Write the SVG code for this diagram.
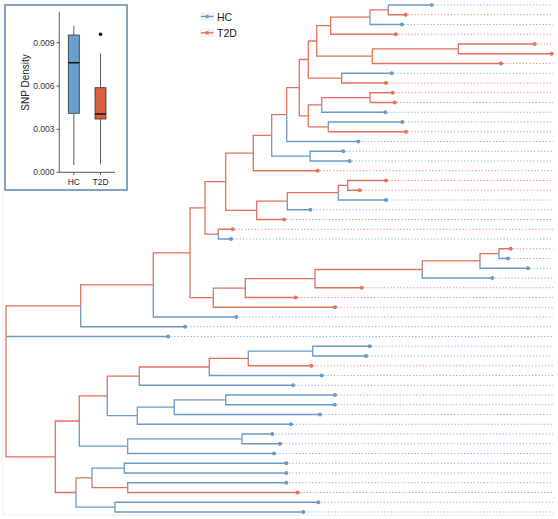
<svg xmlns="http://www.w3.org/2000/svg" width="558" height="519" viewBox="0 0 558 519">
<style>
.r{stroke:#E0725E;fill:none;stroke-width:1.3}
.b{stroke:#6A9AC6;fill:none;stroke-width:1.3}
.tip circle{stroke:none}
.tr circle{fill:#E0725E}
.tb circle{fill:#6A9AC6}
.tr line{stroke:#E58A78;stroke-width:1;stroke-dasharray:1.2 2.1}
.tb line{stroke:#86AED2;stroke-width:1;stroke-dasharray:1.2 2.1}
.ax{stroke:#333;stroke-width:0.8;fill:none}
.lbl{font-family:"Liberation Sans",Arial,sans-serif}
</style>
<rect x="0" y="0" width="558" height="519" fill="#fff"/>
<path d="M3,190V515H555" fill="none" stroke="#ececec" stroke-width="1"/>

<g id="connectors">
<path class="r" d="M6,336.5V305.8H80.7"/>
<path class="b" d="M6,336.5H168.3"/>
<path class="r" d="M6,336.5V456.8H55.3"/>
<path class="b" d="M80.7,305.8V326.75H185"/>
<path class="r" d="M80.7,305.8V284.9H153.3"/>
<path class="b" d="M153.3,284.9V317H236.3"/>
<path class="r" d="M153.3,284.9V252.8H190"/>
<path class="r" d="M190,252.8V207.9H205"/>
<path class="r" d="M190,252.8V297.7H213.3"/>
<path class="r" d="M205,207.9V234.1H218.3"/>
<path class="r" d="M205,207.9V181.7H225.7"/>
<path class="r" d="M218.3,234.1V229.25H232.7"/>
<path class="b" d="M218.3,234.1V239H231"/>
<path class="r" d="M225.7,181.7V153.1H253.3"/>
<path class="r" d="M225.7,181.7V210.4H256.7"/>
<path class="r" d="M253.3,153.1V170.75H317.7"/>
<path class="r" d="M253.3,153.1V135.4H271.7"/>
<path class="b" d="M271.7,135.4V156.1H310"/>
<path class="r" d="M271.7,135.4V114.6H286.7"/>
<path class="b" d="M310,156.1V151.25H343.3"/>
<path class="b" d="M310,156.1V161H349.7"/>
<path class="b" d="M286.7,114.6V141.5H358.3"/>
<path class="r" d="M286.7,114.6V87.7H299.3"/>
<path class="r" d="M299.3,87.7V59.5H308.3"/>
<path class="r" d="M299.3,87.7V115.9H308.3"/>
<path class="r" d="M308.3,59.5V41H316.7"/>
<path class="r" d="M308.3,59.5V78.1H341.7"/>
<path class="r" d="M316.7,41V25.7H330.7"/>
<path class="r" d="M316.7,41V56.2H372.3"/>
<path class="r" d="M330.7,25.7V34.25H395.7"/>
<path class="r" d="M330.7,25.7V17.2H370"/>
<path class="b" d="M370,17.2V24.5H402"/>
<path class="r" d="M370,17.2V9.9H388.3"/>
<path class="b" d="M388.3,9.9V5H431.7"/>
<path class="r" d="M388.3,9.9V14.75H405.7"/>
<path class="r" d="M372.3,56.2V63.5H501"/>
<path class="r" d="M372.3,56.2V48.9H458.3"/>
<path class="r" d="M458.3,48.9V44H534.7"/>
<path class="r" d="M458.3,48.9V53.75H551.7"/>
<path class="b" d="M341.7,78.1V73.25H391.7"/>
<path class="r" d="M341.7,78.1V83H386"/>
<path class="r" d="M308.3,115.9V104.9H321.7"/>
<path class="r" d="M308.3,115.9V126.9H328.3"/>
<path class="r" d="M321.7,104.9V97.6H370"/>
<path class="b" d="M321.7,104.9V112.25H385.3"/>
<path class="r" d="M370,97.6V92.75H392.7"/>
<path class="r" d="M370,97.6V102.5H394.7"/>
<path class="b" d="M328.3,126.9V122H402.3"/>
<path class="r" d="M328.3,126.9V131.75H406"/>
<path class="r" d="M256.7,210.4V219.5H284"/>
<path class="r" d="M256.7,210.4V201.2H287.3"/>
<path class="b" d="M287.3,201.2V209.75H310.3"/>
<path class="r" d="M287.3,201.2V192.7H338.3"/>
<path class="b" d="M338.3,192.7V200H386"/>
<path class="r" d="M338.3,192.7V185.4H347.7"/>
<path class="r" d="M347.7,185.4V180.5H386"/>
<path class="r" d="M347.7,185.4V190.25H359.7"/>
<path class="r" d="M213.3,297.7V307.25H335"/>
<path class="r" d="M213.3,297.7V288.1H245.3"/>
<path class="r" d="M245.3,288.1V297.5H295.7"/>
<path class="r" d="M245.3,288.1V278.6H315"/>
<path class="r" d="M315,278.6V287.75H361.7"/>
<path class="r" d="M315,278.6V269.5H422.3"/>
<path class="b" d="M422.3,269.5V278H492.3"/>
<path class="r" d="M422.3,269.5V260.9H480"/>
<path class="b" d="M480,260.9V268.25H528"/>
<path class="r" d="M480,260.9V253.6H499"/>
<path class="r" d="M499,253.6V248.75H510.7"/>
<path class="b" d="M499,253.6V258.5H508"/>
<path class="r" d="M55.3,456.8V421H79.3"/>
<path class="r" d="M55.3,456.8V492.5H76"/>
<path class="r" d="M79.3,421V395.9H107.3"/>
<path class="b" d="M79.3,421V446.2H127.7"/>
<path class="r" d="M107.3,395.9V376.1H139.3"/>
<path class="b" d="M107.3,395.9V415.7H137.3"/>
<path class="r" d="M139.3,376.1V367H209.3"/>
<path class="b" d="M139.3,376.1V385.25H293"/>
<path class="r" d="M209.3,367V358.4H248.3"/>
<path class="b" d="M209.3,367V375.5H321.7"/>
<path class="b" d="M248.3,358.4V351.1H312.7"/>
<path class="r" d="M248.3,358.4V365.75H311.3"/>
<path class="b" d="M312.7,351.1V346.25H369.7"/>
<path class="b" d="M312.7,351.1V356H366"/>
<path class="b" d="M137.3,415.7V407.2H174.3"/>
<path class="b" d="M137.3,415.7V424.25H291"/>
<path class="b" d="M174.3,407.2V399.9H225.7"/>
<path class="b" d="M174.3,407.2V414.5H320"/>
<path class="b" d="M225.7,399.9V395H335"/>
<path class="b" d="M225.7,399.9V404.75H334.7"/>
<path class="b" d="M127.7,446.2V438.9H242"/>
<path class="b" d="M127.7,446.2V453.5H274"/>
<path class="b" d="M242,438.9V434H272.3"/>
<path class="b" d="M242,438.9V443.75H280"/>
<path class="r" d="M76,492.5V477.9H92"/>
<path class="b" d="M76,492.5V507.1H115"/>
<path class="b" d="M92,477.9V468.1H124.3"/>
<path class="r" d="M92,477.9V487.6H127.7"/>
<path class="b" d="M124.3,468.1V463.25H286.3"/>
<path class="b" d="M124.3,468.1V473H286.3"/>
<path class="b" d="M127.7,487.6V482.75H286.3"/>
<path class="r" d="M127.7,487.6V492.5H297.7"/>
<path class="b" d="M115,507.1V502.25H318.3"/>
<path class="b" d="M115,507.1V512H303.3"/>
</g>

<g id="tips">
<g id="t1" class="tip tb"><line x1="434" y1="5" x2="553" y2="5"/><circle cx="431.7" cy="5" r="2"/></g>
<g id="t2" class="tip tr"><line x1="408" y1="14.75" x2="553" y2="14.75"/><circle cx="405.7" cy="14.75" r="2"/></g>
<g id="t3" class="tip tb"><line x1="404" y1="24.5" x2="553" y2="24.5"/><circle cx="402" cy="24.5" r="2"/></g>
<g id="t4" class="tip tr"><line x1="398" y1="34.25" x2="553" y2="34.25"/><circle cx="395.7" cy="34.25" r="2"/></g>
<g id="t5" class="tip tr"><line x1="537" y1="44" x2="553" y2="44"/><circle cx="534.7" cy="44" r="2"/></g>
<g id="t6" class="tip tr"><circle cx="551.7" cy="53.75" r="2"/></g>
<g id="t7" class="tip tr"><line x1="503" y1="63.5" x2="553" y2="63.5"/><circle cx="501" cy="63.5" r="2"/></g>
<g id="t8" class="tip tb"><line x1="394" y1="73.25" x2="553" y2="73.25"/><circle cx="391.7" cy="73.25" r="2"/></g>
<g id="t9" class="tip tr"><line x1="388" y1="83" x2="553" y2="83"/><circle cx="386" cy="83" r="2"/></g>
<g id="t10" class="tip tr"><line x1="395" y1="92.75" x2="553" y2="92.75"/><circle cx="392.7" cy="92.75" r="2"/></g>
<g id="t11" class="tip tr"><line x1="397" y1="102.5" x2="553" y2="102.5"/><circle cx="394.7" cy="102.5" r="2"/></g>
<g id="t12" class="tip tb"><line x1="388" y1="112.25" x2="553" y2="112.25"/><circle cx="385.3" cy="112.25" r="2"/></g>
<g id="t13" class="tip tb"><line x1="405" y1="122" x2="553" y2="122"/><circle cx="402.3" cy="122" r="2"/></g>
<g id="t14" class="tip tr"><line x1="408" y1="131.75" x2="553" y2="131.75"/><circle cx="406" cy="131.75" r="2"/></g>
<g id="t15" class="tip tb"><line x1="361" y1="141.5" x2="553" y2="141.5"/><circle cx="358.3" cy="141.5" r="2"/></g>
<g id="t16" class="tip tb"><line x1="346" y1="151.25" x2="553" y2="151.25"/><circle cx="343.3" cy="151.25" r="2"/></g>
<g id="t17" class="tip tb"><line x1="352" y1="161" x2="553" y2="161"/><circle cx="349.7" cy="161" r="2"/></g>
<g id="t18" class="tip tr"><line x1="320" y1="170.75" x2="553" y2="170.75"/><circle cx="317.7" cy="170.75" r="2"/></g>
<g id="t19" class="tip tr"><line x1="388" y1="180.5" x2="553" y2="180.5"/><circle cx="386" cy="180.5" r="2"/></g>
<g id="t20" class="tip tr"><line x1="362" y1="190.25" x2="553" y2="190.25"/><circle cx="359.7" cy="190.25" r="2"/></g>
<g id="t21" class="tip tb"><line x1="388" y1="200" x2="553" y2="200"/><circle cx="386" cy="200" r="2"/></g>
<g id="t22" class="tip tb"><line x1="313" y1="209.75" x2="553" y2="209.75"/><circle cx="310.3" cy="209.75" r="2"/></g>
<g id="t23" class="tip tr"><line x1="286" y1="219.5" x2="553" y2="219.5"/><circle cx="284" cy="219.5" r="2"/></g>
<g id="t24" class="tip tr"><line x1="235" y1="229.25" x2="553" y2="229.25"/><circle cx="232.7" cy="229.25" r="2"/></g>
<g id="t25" class="tip tb"><line x1="233" y1="239" x2="553" y2="239"/><circle cx="231" cy="239" r="2"/></g>
<g id="t26" class="tip tr"><line x1="513" y1="248.75" x2="553" y2="248.75"/><circle cx="510.7" cy="248.75" r="2"/></g>
<g id="t27" class="tip tb"><line x1="510" y1="258.5" x2="553" y2="258.5"/><circle cx="508" cy="258.5" r="2"/></g>
<g id="t28" class="tip tb"><line x1="530" y1="268.25" x2="553" y2="268.25"/><circle cx="528" cy="268.25" r="2"/></g>
<g id="t29" class="tip tb"><line x1="495" y1="278" x2="553" y2="278"/><circle cx="492.3" cy="278" r="2"/></g>
<g id="t30" class="tip tr"><line x1="364" y1="287.75" x2="553" y2="287.75"/><circle cx="361.7" cy="287.75" r="2"/></g>
<g id="t31" class="tip tr"><line x1="298" y1="297.5" x2="553" y2="297.5"/><circle cx="295.7" cy="297.5" r="2"/></g>
<g id="t32" class="tip tr"><line x1="337" y1="307.25" x2="553" y2="307.25"/><circle cx="335" cy="307.25" r="2"/></g>
<g id="t33" class="tip tb"><line x1="239" y1="317" x2="553" y2="317"/><circle cx="236.3" cy="317" r="2"/></g>
<g id="t34" class="tip tb"><line x1="187" y1="326.75" x2="553" y2="326.75"/><circle cx="185" cy="326.75" r="2"/></g>
<g id="t35" class="tip tb"><line x1="171" y1="336.5" x2="553" y2="336.5"/><circle cx="168.3" cy="336.5" r="2"/></g>
<g id="t36" class="tip tb"><line x1="372" y1="346.25" x2="553" y2="346.25"/><circle cx="369.7" cy="346.25" r="2"/></g>
<g id="t37" class="tip tb"><line x1="368" y1="356" x2="553" y2="356"/><circle cx="366" cy="356" r="2"/></g>
<g id="t38" class="tip tr"><line x1="314" y1="365.75" x2="553" y2="365.75"/><circle cx="311.3" cy="365.75" r="2"/></g>
<g id="t39" class="tip tb"><line x1="324" y1="375.5" x2="553" y2="375.5"/><circle cx="321.7" cy="375.5" r="2"/></g>
<g id="t40" class="tip tb"><line x1="295" y1="385.25" x2="553" y2="385.25"/><circle cx="293" cy="385.25" r="2"/></g>
<g id="t41" class="tip tb"><line x1="337" y1="395" x2="553" y2="395"/><circle cx="335" cy="395" r="2"/></g>
<g id="t42" class="tip tb"><line x1="337" y1="404.75" x2="553" y2="404.75"/><circle cx="334.7" cy="404.75" r="2"/></g>
<g id="t43" class="tip tb"><line x1="322" y1="414.5" x2="553" y2="414.5"/><circle cx="320" cy="414.5" r="2"/></g>
<g id="t44" class="tip tb"><line x1="293" y1="424.25" x2="553" y2="424.25"/><circle cx="291" cy="424.25" r="2"/></g>
<g id="t45" class="tip tb"><line x1="275" y1="434" x2="553" y2="434"/><circle cx="272.3" cy="434" r="2"/></g>
<g id="t46" class="tip tb"><line x1="282" y1="443.75" x2="553" y2="443.75"/><circle cx="280" cy="443.75" r="2"/></g>
<g id="t47" class="tip tb"><line x1="276" y1="453.5" x2="553" y2="453.5"/><circle cx="274" cy="453.5" r="2"/></g>
<g id="t48" class="tip tb"><line x1="289" y1="463.25" x2="553" y2="463.25"/><circle cx="286.3" cy="463.25" r="2"/></g>
<g id="t49" class="tip tb"><line x1="289" y1="473" x2="553" y2="473"/><circle cx="286.3" cy="473" r="2"/></g>
<g id="t50" class="tip tb"><line x1="289" y1="482.75" x2="553" y2="482.75"/><circle cx="286.3" cy="482.75" r="2"/></g>
<g id="t51" class="tip tr"><line x1="300" y1="492.5" x2="553" y2="492.5"/><circle cx="297.7" cy="492.5" r="2"/></g>
<g id="t52" class="tip tb"><line x1="321" y1="502.25" x2="553" y2="502.25"/><circle cx="318.3" cy="502.25" r="2"/></g>
<g id="t53" class="tip tb"><line x1="305" y1="512" x2="553" y2="512"/><circle cx="303.3" cy="512" r="2"/></g>
</g>

<g id="legend">
<rect x="200" y="12.5" width="14" height="8.5" fill="#f1f3f5"/>
<rect x="200" y="28.5" width="14" height="8.5" fill="#f1f3f5"/>
<line x1="201" y1="16.5" x2="213.5" y2="16.5" stroke="#6A9AC6" stroke-width="1.3"/>
<circle cx="207.2" cy="16.5" r="1.8" fill="#6A9AC6"/>
<line x1="201" y1="32.8" x2="213.5" y2="32.8" stroke="#E0725E" stroke-width="1.3"/>
<circle cx="207.2" cy="32.8" r="1.8" fill="#E0725E"/>
<text class="lbl" x="217" y="20.7" font-size="10.5" fill="#222">HC</text>
<text class="lbl" x="217" y="36.5" font-size="10.5" fill="#222">T2D</text>
</g>

<g id="inset">
<rect x="5" y="5" width="122" height="185" fill="#fff" stroke="#5A86AE" stroke-width="1.5"/>
<path class="ax" d="M59.3,11.7V172.3H115"/>
<path class="ax" d="M56.5,42.7H59.3M56.5,86H59.3M56.5,129.3H59.3M56.5,172.3H59.3M73.8,172.3V175M100.5,172.3V175"/>
<text class="lbl" x="54.5" y="45.6" font-size="8.5" text-anchor="end" fill="#333">0.009</text>
<text class="lbl" x="54.5" y="88.9" font-size="8.5" text-anchor="end" fill="#333">0.006</text>
<text class="lbl" x="54.5" y="132.2" font-size="8.5" text-anchor="end" fill="#333">0.003</text>
<text class="lbl" x="54.5" y="175.2" font-size="8.5" text-anchor="end" fill="#333">0.000</text>
<text class="lbl" x="73.8" y="184.5" font-size="8.5" text-anchor="middle" fill="#222">HC</text>
<text class="lbl" x="100.5" y="184.5" font-size="8.5" text-anchor="middle" fill="#222">T2D</text>
<text class="lbl" transform="translate(28.5,82.5) rotate(-90)" font-size="10" text-anchor="middle" fill="#222">SNP Density</text>
<g id="box-hc">
<path class="ax" d="M73.8,25.7V35M73.8,113.3V165"/>
<rect x="68.3" y="35" width="11" height="78.3" fill="#6A9ECF" stroke="#333" stroke-width="0.8"/>
<line x1="68.3" y1="62.7" x2="79.3" y2="62.7" stroke="#111" stroke-width="1.5"/>
</g>
<g id="box-t2d">
<path class="ax" d="M100.5,53.3V87.7M100.5,119V164.3"/>
<rect x="95" y="87.7" width="11" height="31.3" fill="#D95E42" stroke="#333" stroke-width="0.8"/>
<line x1="95" y1="114" x2="106" y2="114" stroke="#111" stroke-width="1.5"/>
<circle cx="100.5" cy="34.3" r="1.8" fill="#111"/>
</g>
</g>
</svg>
